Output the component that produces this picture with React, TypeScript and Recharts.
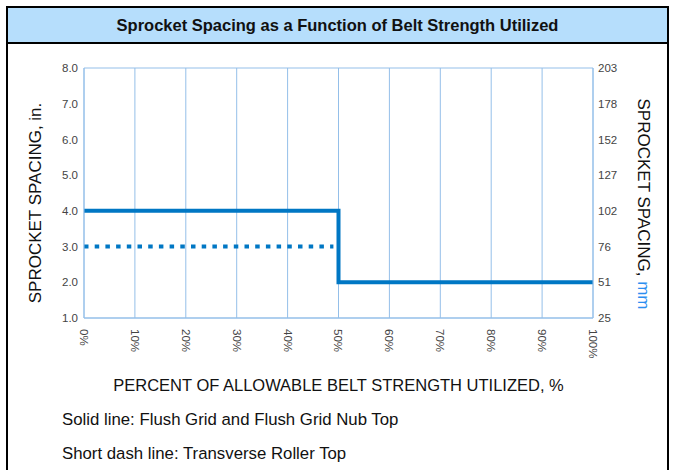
import React from "react";
import { LineChart, Line, XAxis, YAxis, CartesianGrid } from "recharts";

const PERCENT_TICKS = [0, 10, 20, 30, 40, 50, 60, 70, 80, 90, 100];
const INCH_TICKS = [1, 2, 3, 4, 5, 6, 7, 8];
const MM_LABELS = ["25", "51", "76", "102", "127", "152", "178", "203"];

// Flush Grid / Flush Grid Nub Top (solid)
const SOLID_X = [0, 50, 50, 100];
const SOLID_Y = [4, 4, 2, 2];
// Transverse Roller Top (short dash)
const DASH_X = [0, 49];
const DASH_Y = [3, 3];

const BLUE = "#0077c4";
const GRID = "#94bfe9";
const FONT = "'Liberation Sans', Arial, sans-serif";

const solidData = SOLID_X.map((x, i) => ({ x, y: SOLID_Y[i] }));
const dashData = DASH_X.map((x, i) => ({ x, y: DASH_Y[i] }));

const PercentTick = (props: any) => {
  const { x, y, payload } = props;
  return (
    <text
      x={0}
      y={0}
      dy="0.35em"
      transform={`translate(${x},${y + 3}) rotate(90)`}
      textAnchor="start"
      fontSize={11.5}
      fill="#444"
      fontFamily={FONT}
    >
      {payload.value}%
    </text>
  );
};

export default function App() {
  return (
    <div
      style={{
        position: "absolute",
        left: 0,
        top: 0,
        width: 675,
        height: 470,
        background: "#fff",
        fontFamily: FONT,
        overflow: "hidden",
      }}
    >
      <div
        style={{
          position: "absolute",
          left: 6,
          top: 6,
          width: 659,
          height: 470,
          border: "2px solid #000",
        }}
      />
      <div
        style={{
          position: "absolute",
          left: 8,
          top: 8,
          width: 659,
          height: 34,
          background: "#b6defc",
          borderBottom: "2px solid #000",
          display: "flex",
          alignItems: "center",
          justifyContent: "center",
          fontWeight: "bold",
          fontSize: 16.5,
          color: "#111",
        }}
      >
        Sprocket Spacing as a Function of Belt Strength Utilized
      </div>

      <div style={{ position: "absolute", left: 0, top: 0 }}>
        <LineChart
          width={675}
          height={470}
          margin={{ top: 68, right: 42, bottom: 92, left: 44 }}
        >
          <CartesianGrid stroke={GRID} strokeWidth={1} />
          <XAxis
            dataKey="x"
            type="number"
            domain={[0, 100]}
            ticks={PERCENT_TICKS}
            tick={<PercentTick />}
            tickLine={false}
            axisLine={{ stroke: GRID }}
            height={60}
            interval={0}
            allowDuplicatedCategory={false}
          />
          <YAxis
            yAxisId="in"
            orientation="left"
            type="number"
            domain={[1, 8]}
            ticks={INCH_TICKS}
            tickFormatter={(v: number) => v.toFixed(1)}
            tickLine={false}
            tickSize={4}
            axisLine={{ stroke: GRID }}
            width={40}
            interval={0}
            tick={{ fontSize: 11.5, fill: "#444", fontFamily: FONT }}
          />
          <YAxis
            yAxisId="mm"
            orientation="right"
            type="number"
            domain={[1, 8]}
            ticks={INCH_TICKS}
            tickFormatter={(v: number) => MM_LABELS[v - 1]}
            tickLine={false}
            tickSize={3}
            axisLine={{ stroke: GRID }}
            width={40}
            interval={0}
            tick={{ fontSize: 11.5, fill: "#444", fontFamily: FONT, textAnchor: "start" }}
          />
          <Line
            yAxisId="in"
            data={solidData}
            dataKey="y"
            type="linear"
            stroke={BLUE}
            strokeWidth={4}
            strokeLinecap="butt"
            strokeLinejoin="miter"
            dot={false}
            activeDot={false}
            isAnimationActive={false}
          />
          <Line
            yAxisId="mm"
            data={dashData}
            dataKey="y"
            type="linear"
            stroke={BLUE}
            strokeWidth={4}
            strokeDasharray="4.5 6.2"
            strokeLinecap="butt"
            dot={false}
            activeDot={false}
            isAnimationActive={false}
          />
        </LineChart>
      </div>

      <div
        style={{
          position: "absolute",
          left: 36,
          top: 203,
          transform: "translate(-50%, -50%) rotate(-90deg)",
          whiteSpace: "nowrap",
          fontSize: 17,
          color: "#111",
        }}
      >
        SPROCKET SPACING, in.
      </div>
      <div
        style={{
          position: "absolute",
          left: 643,
          top: 204,
          transform: "translate(-50%, -50%) rotate(90deg)",
          whiteSpace: "nowrap",
          fontSize: 17,
          color: "#111",
        }}
      >
        SPROCKET SPACING, <span style={{ color: "#2b8ef0" }}>mm</span>
      </div>
      <div
        style={{
          position: "absolute",
          left: 0,
          width: 677,
          top: 376,
          textAlign: "center",
          fontSize: 16.5,
          color: "#111",
        }}
      >
        PERCENT OF ALLOWABLE BELT STRENGTH UTILIZED, %
      </div>
      <div style={{ position: "absolute", left: 62, top: 410, fontSize: 16.8, color: "#111" }}>
        Solid line: Flush Grid and Flush Grid Nub Top
      </div>
      <div style={{ position: "absolute", left: 62, top: 444, fontSize: 16.8, color: "#111" }}>
        Short dash line: Transverse Roller Top
      </div>
    </div>
  );
}
